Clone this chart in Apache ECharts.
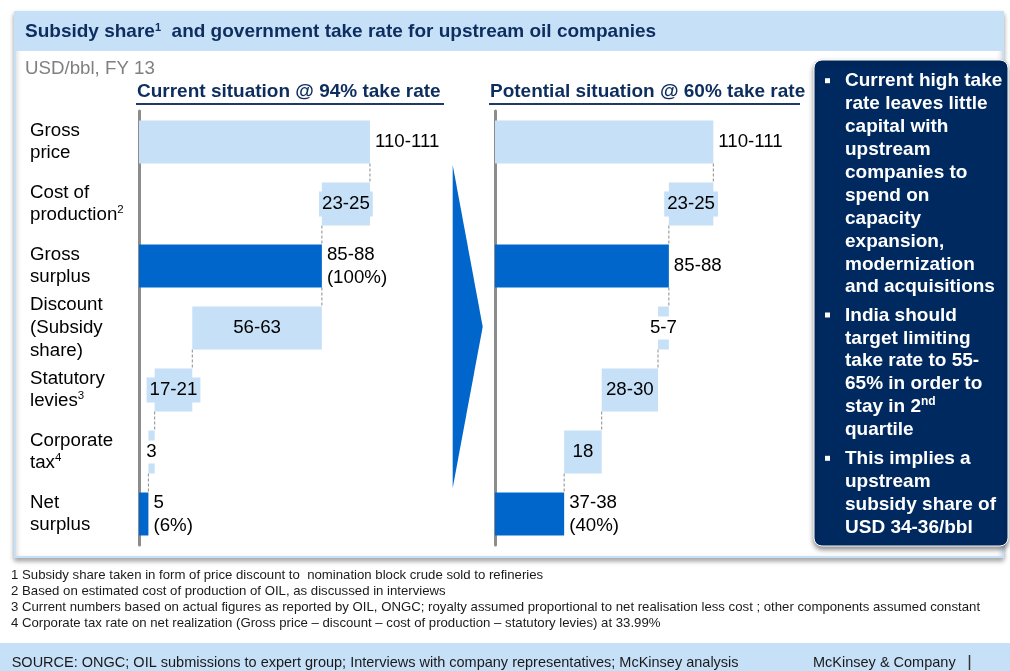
<!DOCTYPE html>
<html><head><meta charset="utf-8">
<script src="https://cdn.jsdelivr.net/npm/echarts@6/dist/echarts.min.js"></script>
<style>html,body{margin:0;padding:0;background:#fff}#c{width:1010px;height:671px}</style>
</head><body><div id="c"></div>
<script>
// ---------- data ----------
const categories = ['Gross\nprice', 'Cost of\nproduction{s|2}', 'Gross\nsurplus', 'Discount\n(Subsidy\nshare)', 'Statutory\nlevies{s|3}', 'Corporate\ntax{s|4}', 'Net\nsurplus'];
const barKinds = ['light', 'light', 'dark', 'light', 'light', 'light', 'dark'];

const currentStart = [0, 87.5, 0, 25.5, 7.5, 4.5, 0];
const currentEnd = [110.5, 110.5, 87.5, 87.5, 25.5, 7.5, 4.5];
const currentLabels = ['110-111', '23-25', '85-88\n(100%)', '56-63', '17-21', '3', '5\n(6%)'];

const potentialStart = [0, 88, 0, 82.5, 54, 35, 0];
const potentialEnd = [110.5, 110.5, 88, 88, 82.5, 54, 35];
const potentialLabels = ['110-111', '23-25', '85-88', '5-7', '28-30', '18', '37-38\n(40%)'];

const panelTitles = ['Current situation @ 94% take rate', 'Potential situation @ 60% take rate'];
const footnotes = [
  '1 Subsidy share taken in form of price discount to  nomination block crude sold to refineries',
  '2 Based on estimated cost of production of OIL, as discussed in interviews',
  '3 Current numbers based on actual figures as reported by OIL, ONGC; royalty assumed proportional to net realisation less cost ; other components assumed constant',
  '4 Corporate tax rate on net realization (Gross price \u2013 discount \u2013 cost of production \u2013 statutory levies) at 33.99%'
];
const bullets = [
  'Current high take\nrate leaves little\ncapital with\nupstream\ncompanies to\nspend on\ncapacity\nexpansion,\nmodernization\nand acquisitions',
  'India should\ntarget limiting\ntake rate to 55-\n65% in order to\nstay in 2{sup|nd}\nquartile',
  'This implies a\nupstream\nsubsidy share of\nUSD 34-36/bbl'
];

// ---------- style ----------
const FF = '"Liberation Sans", Arial, Helvetica, sans-serif';
const LIGHT = '#C6E0F8';
const DARK = '#0066CC';
const NAVY = '#0D2D5E';
const BOX = '#00295F';
const BAR_H = 43;
const currentLabelKinds = ['out', 'boxBlue', 'out', 'in', 'boxBlue', 'boxWhite', 'out'];
const potentialLabelKinds = ['out', 'boxBlue', 'out', 'boxWhite', 'in', 'in', 'out'];

function labelFor(kind, text) {
  const base = { show: true, formatter: () => text, color: '#000', fontSize: 18.7, lineHeight: 23, fontFamily: FF };
  if (kind === 'out') return Object.assign(base, { position: 'right', distance: 5 });
  if (kind === 'in') return Object.assign(base, { position: 'inside' });
  if (kind === 'boxBlue') return Object.assign(base, { position: 'inside', backgroundColor: LIGHT, padding: [2, 3], lineHeight: 21 });
  return Object.assign(base, { position: 'inside', backgroundColor: '#fff', padding: [1, 3], lineHeight: 21 });
}

function panelSeries(idx, starts, ends, labels, kinds) {
  const base = {
    type: 'bar', xAxisIndex: idx, yAxisIndex: idx, stack: 'p' + idx, barWidth: BAR_H, silent: true,
    itemStyle: { color: 'transparent' }, data: starts, z: 2
  };
  const vis = {
    type: 'bar', xAxisIndex: idx, yAxisIndex: idx, stack: 'p' + idx, barWidth: BAR_H, silent: true, z: 3,
    data: ends.map((e, i) => ({
      value: e - starts[i],
      itemStyle: { color: barKinds[i] === 'dark' ? DARK : LIGHT },
      label: labelFor(kinds[i], labels[i])
    }))
  };
  const conn = {
    type: 'custom', xAxisIndex: idx, yAxisIndex: idx, silent: true, z: 2,
    dimensions: ['cat', 'val'], encode: { y: 0, x: 1 },
    data: ends.slice(1).map((e, i) => [i, e]),
    renderItem: (params, api) => {
      const i = api.value(0), x = api.value(1);
      const p1 = api.coord([x, i]), p2 = api.coord([x, i + 1]);
      return {
        type: 'line',
        shape: { x1: p1[0], y1: p1[1] + BAR_H / 2, x2: p2[0], y2: p2[1] - BAR_H / 2 },
        style: { stroke: '#8a8a8a', lineWidth: 1, lineDash: [3, 2] }
      };
    }
  };
  return [base, vis, conn];
}

const yAxisBase = {
  type: 'category', data: categories, inverse: true, offset: 1.5,
  axisLine: { show: true, lineStyle: { color: '#8c8c8c', width: 3 } },
  axisTick: { show: false }, splitLine: { show: false }
};

const graphics = [
  { type: 'rect', z: -10, shape: { x: 15, y: 12, width: 988, height: 545 },
    style: { fill: '#fff', stroke: '#C6E0F8', lineWidth: 2, shadowBlur: 5, shadowOffsetY: 3, shadowColor: 'rgba(0,0,0,0.35)' } },
  { type: 'rect', z: -9, shape: { x: 16, y: 13, width: 987, height: 38 }, style: { fill: LIGHT } },
  { type: 'text', z: 5, x: 25, y: 32, style: {
      text: 'Subsidy share{s|1}  and government take rate for upstream oil companies',
      fontSize: 19, fontWeight: 'bold', fontFamily: FF, fill: NAVY, verticalAlign: 'middle',
      rich: { s: { fontSize: 11, fontWeight: 'bold', fontFamily: FF, fill: NAVY, verticalAlign: 'top', lineHeight: 11 } } } },
  { type: 'text', z: 5, x: 25, y: 69, style: { text: 'USD/bbl, FY 13', fontSize: 18.7, fontFamily: FF, fill: '#808080', verticalAlign: 'middle' } },
  { type: 'text', z: 5, x: 137, y: 92, style: { text: panelTitles[0], fontSize: 19, fontWeight: 'bold', fontFamily: FF, fill: NAVY, verticalAlign: 'middle' } },
  { type: 'line', z: 5, shape: { x1: 136, y1: 104, x2: 444, y2: 104 }, style: { stroke: '#1F3A66', lineWidth: 2 } },
  { type: 'text', z: 5, x: 490, y: 92, style: { text: panelTitles[1], fontSize: 19, fontWeight: 'bold', fontFamily: FF, fill: NAVY, verticalAlign: 'middle' } },
  { type: 'line', z: 5, shape: { x1: 489, y1: 104, x2: 800, y2: 104 }, style: { stroke: '#1F3A66', lineWidth: 2 } },
  { type: 'polygon', z: 5, shape: { points: [[452.7, 165], [482.7, 326.7], [452.7, 488]] }, style: { fill: DARK } },
  { type: 'rect', z: 20, shape: { x: 814, y: 60, width: 194, height: 486, r: 8 },
    style: { fill: BOX, stroke: '#fff', lineWidth: 1, shadowBlur: 5, shadowOffsetY: 3, shadowColor: 'rgba(0,0,0,0.45)' } },
  { type: 'rect', z: 0, shape: { x: 0, y: 643, width: 1010, height: 28 }, style: { fill: LIGHT } },
  { type: 'text', z: 5, x: 11.7, y: 663.3, style: { text: 'SOURCE: ONGC; OIL submissions to expert group; Interviews with company representatives; McKinsey analysis', fontSize: 14.5, fontFamily: FF, fill: '#1a1a1a', verticalAlign: 'middle' } },
  { type: 'text', z: 5, x: 813, y: 663.3, style: { text: 'McKinsey & Company', fontSize: 14.5, fontFamily: FF, fill: '#1a1a1a', verticalAlign: 'middle' } },
  { type: 'line', z: 5, shape: { x1: 969.5, y1: 655, x2: 969.5, y2: 670 }, style: { stroke: '#333', lineWidth: 1.5 } }
];
const bulletTops = [69.7, 304, 447.3];
bullets.forEach((b, i) => {
  graphics.push({ type: 'rect', z: 21, shape: { x: 825, y: bulletTops[i] + 8.5, width: 5, height: 5 }, style: { fill: '#fff' } });
  graphics.push({ type: 'text', z: 21, x: 845, y: bulletTops[i], style: {
    text: b, fontSize: 19, fontWeight: 'bold', fontFamily: FF, fill: '#fff', lineHeight: 22.9, verticalAlign: 'top',
    rich: { sup: { fontSize: 12, fontWeight: 'bold', fontFamily: FF, fill: '#fff', verticalAlign: 'top', lineHeight: 12 } } } });
});
const footY = [575.3, 591.3, 607.3, 623.3];
footnotes.forEach((t, i) => {
  graphics.push({ type: 'text', z: 5, x: 11, y: footY[i], style: { text: t, fontSize: 13.2, fontFamily: FF, fill: '#1a1a1a', verticalAlign: 'middle' } });
});

const chart = echarts.init(document.getElementById('c'), null, { renderer: 'canvas' });
chart.setOption({
  animation: false,
  textStyle: { fontFamily: FF },
  grid: [
    { left: 139, top: 111, width: 250.8, height: 434 },
    { left: 495, top: 111, width: 237.1, height: 434 }
  ],
  xAxis: [
    { gridIndex: 0, type: 'value', min: 0, max: 120, show: false },
    { gridIndex: 1, type: 'value', min: 0, max: 120, show: false }
  ],
  yAxis: [
    Object.assign({}, yAxisBase, { gridIndex: 0, axisLabel: {
      show: true, align: 'left', margin: 107.5, color: '#000', fontSize: 18.7, lineHeight: 22.7, fontFamily: FF, interval: 0,
      rich: { s: { fontSize: 11.5, lineHeight: 11, verticalAlign: 'top', color: '#000', fontFamily: FF } } } }),
    Object.assign({}, yAxisBase, { gridIndex: 1, axisLabel: { show: false } })
  ],
  series: [
    ...panelSeries(0, currentStart, currentEnd, currentLabels, currentLabelKinds),
    ...panelSeries(1, potentialStart, potentialEnd, potentialLabels, potentialLabelKinds)
  ],
  graphic: graphics
});
</script></body></html>
